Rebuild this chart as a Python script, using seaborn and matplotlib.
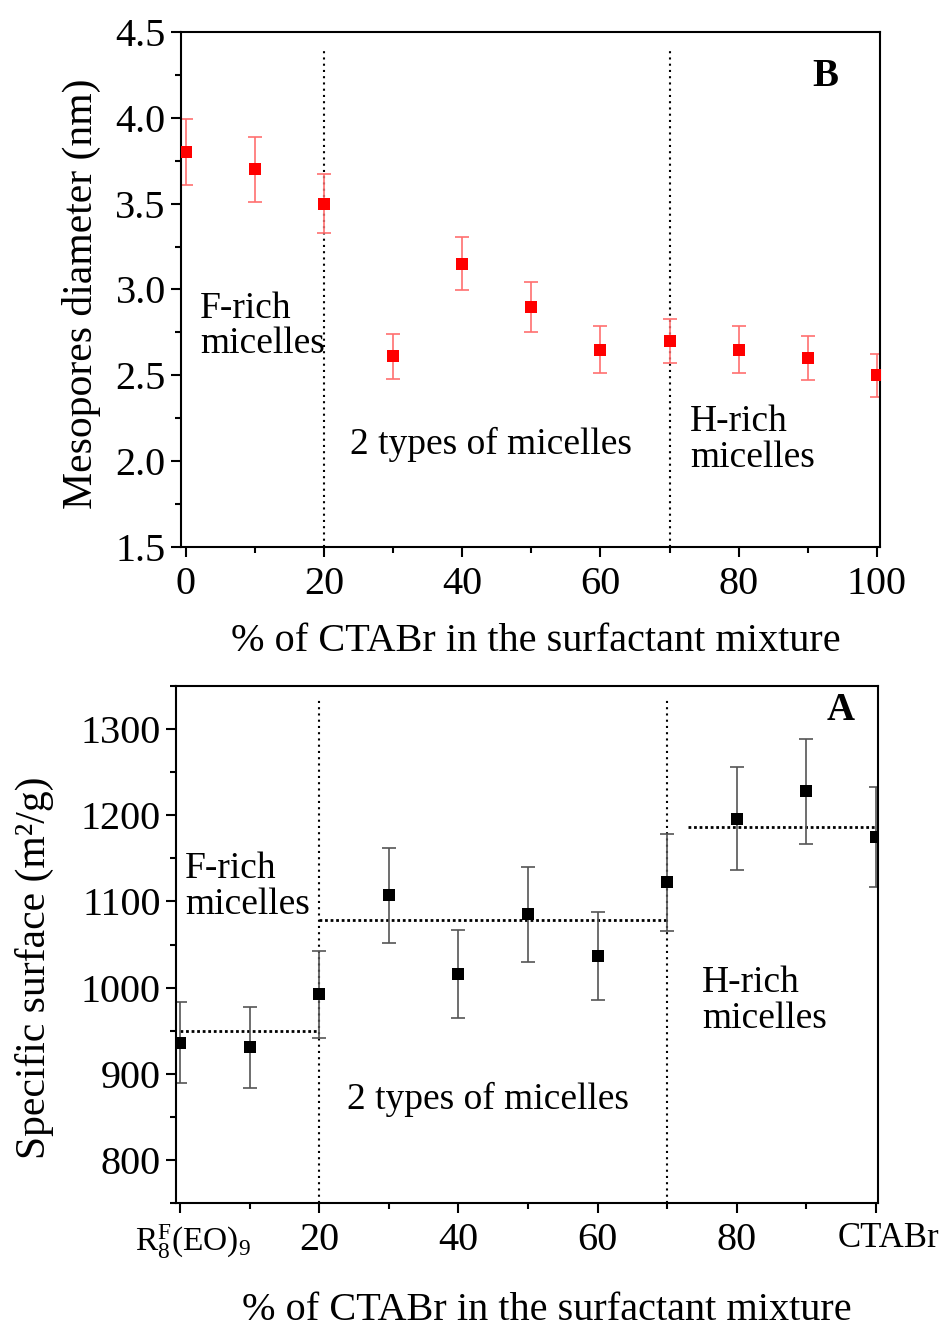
import matplotlib
matplotlib.use("Agg")
import matplotlib.pyplot as plt
import matplotlib.transforms as mtransforms
import seaborn as sns
import numpy as np
import pandas as pd
from matplotlib.ticker import MultipleLocator

# ---- data ----
ctab_pct = [0, 10, 20, 30, 40, 50, 60, 70, 80, 90, 100]
pore_diam = [3.80, 3.70, 3.50, 2.61, 3.15, 2.90, 2.65, 2.70, 2.65, 2.60, 2.50]
pore_err = [0.19, 0.19, 0.17, 0.13, 0.155, 0.145, 0.135, 0.13, 0.135, 0.13, 0.125]

surface = [936, 931, 992, 1107, 1016, 1085, 1037, 1122, 1196, 1228, 1175]
surface_err = [47, 47, 50, 55, 51, 55, 51, 56, 60, 61, 58]

mean_levels = [950, 1078, 1186]
mean_spans = [(0, 20), (20, 70), (73, 100)]
regime_bounds = [20, 70]

bottom_ticks = [0, 20, 40, 60, 80, 100]
bottom_ticklabels = [r"$\mathrm{R}_{8}^{\mathrm{F}}\mathrm{(EO)}_{9}$", "20", "40", "60", "80", "CTABr"]

sns.set_style("ticks")
plt.rcParams["font.family"] = ["Liberation Serif", "DejaVu Serif"]
plt.rcParams["mathtext.fontset"] = "custom"
plt.rcParams["mathtext.rm"] = "Liberation Serif"
plt.rcParams["mathtext.it"] = "Liberation Serif:italic"
plt.rcParams["mathtext.bf"] = "Liberation Serif:bold"
for k in ["text.color", "axes.labelcolor", "xtick.color", "ytick.color", "axes.edgecolor"]:
    plt.rcParams[k] = "black"

df_top = pd.DataFrame({"x": ctab_pct, "y": pore_diam, "err": pore_err})
df_bot = pd.DataFrame({"x": ctab_pct, "y": surface, "err": surface_err})

fig = plt.figure(figsize=(9.45, 13.29), dpi=100)
ax1 = fig.add_axes([0.1915, 0.5884, 0.7395, 0.3876])
ax2 = fig.add_axes([0.1862, 0.0948, 0.7428, 0.389])

TICK_FS = 29
XLAB_FS = 29
YLAB_FS = 30
TXT_FS = 27
LET_FS = 28

def style_axes(ax):
    for sp in ax.spines.values():
        sp.set_linewidth(1.5)
        sp.set_color("black")
        sp.set_visible(True)
    ax.tick_params(axis="both", which="major", direction="out", length=7, width=1.5,
                   labelsize=TICK_FS, top=False, right=False, colors="black", pad=4)
    ax.tick_params(axis="x", which="major", pad=7)
    ax.tick_params(axis="both", which="minor", direction="out", length=4, width=1.5,
                   top=False, right=False)
    ax.grid(False)

# ---- top panel (B) ----
ax1.errorbar(df_top["x"], df_top["y"], yerr=df_top["err"], fmt="none",
             ecolor="#ff7070", elinewidth=1.2, capsize=5, capthick=1.2, zorder=2)
sns.scatterplot(data=df_top, x="x", y="y", ax=ax1, marker="s", s=80,
                color="#ff0000", edgecolor="#ff0000", linewidth=0, zorder=3)
for b in regime_bounds:
    ax1.plot([b, b], [1.5, 4.41], linestyle=(0, (1, 2)), color="black", lw=1.5, zorder=1)
ax1.set_xlim(-0.72, 100.43)
ax1.set_ylim(1.5, 4.5)
ax1.xaxis.set_major_locator(MultipleLocator(20))
ax1.xaxis.set_minor_locator(MultipleLocator(10))
ax1.yaxis.set_major_locator(MultipleLocator(0.5))
ax1.yaxis.set_minor_locator(MultipleLocator(0.25))
ax1.yaxis.set_major_formatter(matplotlib.ticker.FormatStrFormatter("%.1f"))
style_axes(ax1)
ax1.set_xlabel("% of CTABr in the surfactant mixture", fontsize=XLAB_FS, labelpad=14, x=0.508)
ax1.set_ylabel("Mesopores diameter (nm)", fontsize=YLAB_FS, labelpad=10, y=0.491)
ax1.text(2.0, 2.99, "F-rich\nmicelles", fontsize=TXT_FS, va="top", ha="left", linespacing=1.05)
ax1.text(23.8, 2.1, "2 types of micelles", fontsize=TXT_FS, va="center", ha="left")
ax1.text(73.0, 2.33, "H-rich\nmicelles", fontsize=TXT_FS, va="top", ha="left", linespacing=1.05)
ax1.text(92.5, 4.24, "B", fontsize=LET_FS, fontweight="bold", va="center", ha="center")

# ---- bottom panel (A) ----
ax2.errorbar(df_bot["x"], df_bot["y"], yerr=df_bot["err"], fmt="none",
             ecolor="#555555", elinewidth=1.2, capsize=5, capthick=1.2, zorder=2)
sns.scatterplot(data=df_bot, x="x", y="y", ax=ax2, marker="s", s=80,
                color="black", edgecolor="black", linewidth=0, zorder=3)
for b in regime_bounds:
    ax2.plot([b, b], [750, 1334], linestyle=(0, (1, 2)), color="black", lw=1.5, zorder=1)
for lvl, (x0, x1) in zip(mean_levels, mean_spans):
    ax2.plot([x0, x1], [lvl, lvl], linestyle=(0, (1, 1)), color="black", lw=2, zorder=1)
ax2.set_xlim(-0.57, 100.29)
ax2.set_ylim(750, 1350)
ax2.set_xticks(bottom_ticks)
ax2.set_xticklabels(bottom_ticklabels)
ax2.xaxis.set_minor_locator(MultipleLocator(10))
ax2.yaxis.set_major_locator(MultipleLocator(100))
ax2.yaxis.set_minor_locator(MultipleLocator(50))
style_axes(ax2)
lbls = ax2.get_xticklabels()
lbls[0].set_fontsize(24)
lbls[-1].set_fontsize(25)
shift = mtransforms.ScaledTranslation(13 / 100, 0, fig.dpi_scale_trans)
for lab in (lbls[0], lbls[-1]):
    lab.set_transform(lab.get_transform() + shift)
ax2.set_xlabel("% of CTABr in the surfactant mixture", fontsize=XLAB_FS, labelpad=22, x=0.528)
ax2.set_ylabel("Specific surface (m²/g)", fontsize=YLAB_FS, labelpad=19, y=0.456)
ax2.text(0.7, 1158, "F-rich\nmicelles", fontsize=TXT_FS, va="top", ha="left", linespacing=1.05)
ax2.text(24.0, 870, "2 types of micelles", fontsize=TXT_FS, va="center", ha="left")
ax2.text(75.0, 1026, "H-rich\nmicelles", fontsize=TXT_FS, va="top", ha="left", linespacing=1.05)
ax2.text(95.0, 1322, "A", fontsize=LET_FS, fontweight="bold", va="center", ha="center")

fig.savefig("out.png", dpi=100)
